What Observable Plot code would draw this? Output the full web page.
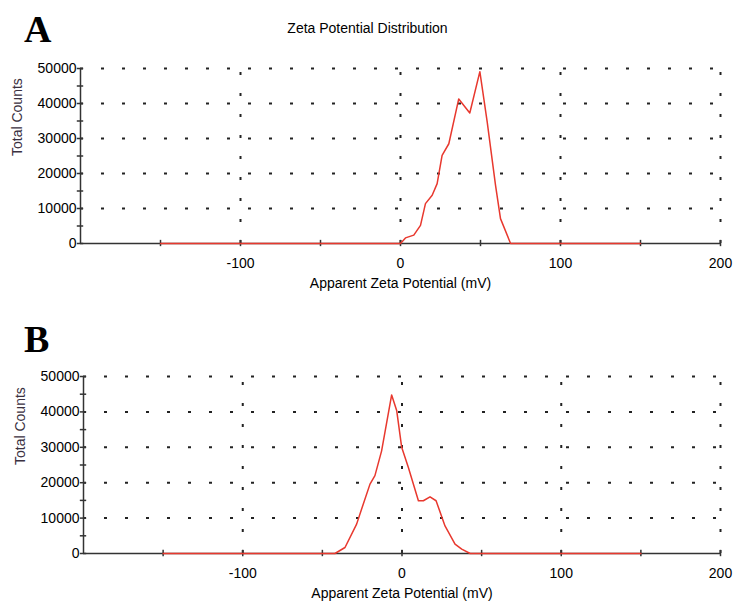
<!DOCTYPE html>
<html>
<head>
<meta charset="utf-8">
<script src="https://cdn.jsdelivr.net/npm/d3@7"></script>
<script src="https://cdn.jsdelivr.net/npm/@observablehq/plot@0.6"></script>
<style>
  html, body { margin: 0; padding: 0; background: #fff; }
  #wrap { position: relative; width: 735px; height: 604px; overflow: hidden; }
  #wrap svg { position: absolute; left: 0; }
  .letter { position: absolute; font-family: "Liberation Serif", "DejaVu Serif", serif; font-weight: bold; font-size: 38px; line-height: 1; color: #000; }
  .title { position: absolute; font-family: "Liberation Sans", Arial, sans-serif; font-size: 14px; color: #000; white-space: nowrap; }
</style>
</head>
<body>
<div id="wrap">
  <div class="letter" style="left:24px; top:10px;">A</div>
  <div class="letter" style="left:24px; top:320px;">B</div>
  <div class="title" id="title" style="top:20px;"></div>
</div>
<script>
// ---- data ----
const chartTitle = "Zeta Potential Distribution";
const xTitle = "Apparent Zeta Potential (mV)";
const yTitle = "Total Counts";

const xTickLabels = [-100, 0, 100, 200];
const xTickMarks = [-150, -100, -50, 0, 50, 100, 150, 200];
const yTickLabels = [0, 10000, 20000, 30000, 40000, 50000];
const yTickMarks = [0, 5000, 10000, 15000, 20000, 25000, 30000, 35000, 40000, 45000, 50000];
const gridY = [10000, 20000, 30000, 40000, 50000];
const gridX = [-100, 0, 100, 200];

// Panel A
const zetaA = [-150, 0, 3.1, 8.3, 12.5, 15.6, 19.8, 22.9, 26.0, 30.2, 36.4, 43.3, 49.6, 54.2, 59.4, 62.5, 68.8, 150];
const countsA = [0, 0, 1600, 2400, 5200, 11400, 13800, 17100, 25200, 28500, 41300, 37300, 49100, 34700, 16600, 7100, 0, 0];

// Panel B
const zetaB = [-150, -42.1, -35.8, -28.5, -24.3, -20.1, -17.0, -12.8, -6.5, -3.3, -0.2, 4.0, 10.3, 13.4, 17.6, 21.4, 27.0, 33.3, 37.5, 42.8, 150];
const countsB = [0, 0, 1700, 8300, 14000, 19600, 22000, 29000, 44800, 40300, 30000, 24300, 14900, 14900, 16000, 14900, 7800, 2650, 1240, 0, 0];

function panel(zeta, counts, opts) {
  const data = zeta.map((z, i) => ({z, c: counts[i]}));
  const axisColor = "#333";
  const dotColor = "#222";
  return Plot.plot({
    width: 735,
    height: opts.height,
    marginTop: opts.marginTop,
    marginBottom: opts.marginBottom,
    marginLeft: opts.marginLeft,
    marginRight: 15,
    x: {domain: [-200, 200], axis: null},
    y: {domain: [0, 50000], axis: null},
    style: {fontFamily: "'Liberation Sans', Arial, sans-serif", fontSize: "14px", overflow: "visible", background: "transparent"},
    marks: [
      Plot.ruleY(gridY, {y: d => d, x1: -200, x2: 200, stroke: dotColor, strokeWidth: 2, strokeDasharray: "3,18"}),
      Plot.ruleX(gridX, {x: d => d, y1: 0, y2: 50000, stroke: dotColor, strokeWidth: 2, strokeDasharray: "3,18"}),
      Plot.ruleY([0], {x1: -200, x2: 200, stroke: axisColor, strokeWidth: 1.5}),
      Plot.ruleX([-200], {y1: 0, y2: 50000, stroke: axisColor, strokeWidth: 1.5}),
      Plot.ruleX(xTickMarks, {x: d => d, y1: -900, y2: 900, stroke: axisColor, strokeWidth: 1.5}),
      Plot.ruleY(yTickMarks, {y: d => d, x1: -202, x2: -198, stroke: axisColor, strokeWidth: 1.5}),
      Plot.line(data, {x: "z", y: "c", stroke: "#e8382e", strokeWidth: 1.5}),
      Plot.text(xTickLabels, {x: d => d, y: 0, dy: 20, text: d => String(d), fill: "#000"}),
      Plot.text(yTickLabels, {x: -200, y: d => d, dx: -4, text: d => String(d), textAnchor: "end", fill: "#000"}),
      Plot.text([xTitle], {frameAnchor: "bottom", dy: 44, text: d => d, fill: "#000"}),
      Plot.text([yTitle], {frameAnchor: "left", dx: -63, rotate: -90, text: d => d, fill: "#3a3040"})
    ]
  });
}

const wrap = document.getElementById("wrap");
const svgA = panel(zetaA, countsA, {height: 310, marginTop: 68, marginBottom: 67, marginLeft: 80});
svgA.style.top = "0px";
const svgB = panel(zetaB, countsB, {height: 294, marginTop: 66, marginBottom: 51, marginLeft: 83});
svgB.style.top = "310px";
wrap.insertBefore(svgA, wrap.firstChild);
wrap.insertBefore(svgB, wrap.firstChild);

const t = document.getElementById("title");
t.textContent = chartTitle;
t.style.left = "0px";
t.style.width = "735px";
t.style.textAlign = "center";
</script>
</body>
</html>
